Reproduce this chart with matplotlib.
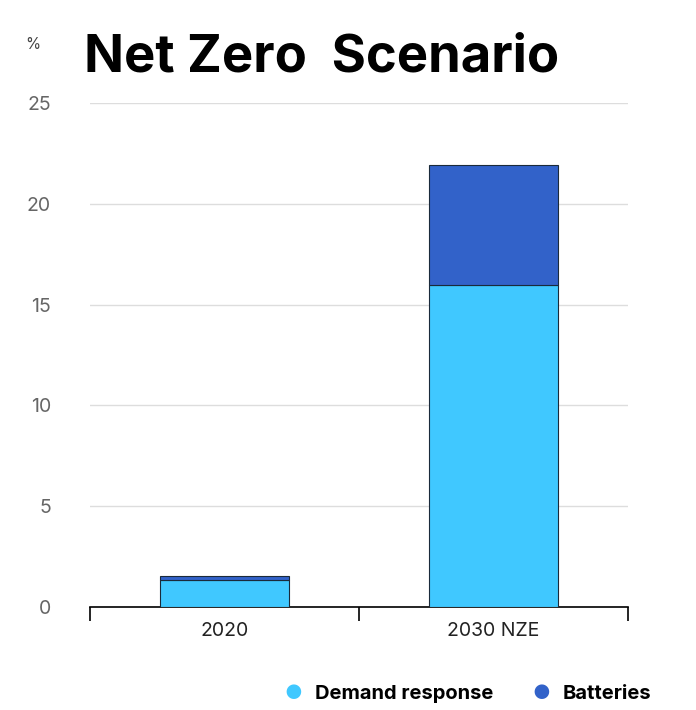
import matplotlib.pyplot as plt

plt.rcParams["font.family"] = ["Inter", "DejaVu Sans"]

categories = ["2020", "2030 NZE"]
demand_response = [1.35, 15.95]
batteries = [0.2, 5.95]

light = "#40C8FF"
dark = "#3262C9"

fig = plt.figure(figsize=(6.96, 7.1), dpi=100)
ax = fig.add_axes([0.129, 0.145, 0.773, 0.71])

x = range(len(categories))
ax.bar(x, demand_response, width=0.48, color=light, edgecolor="#1a2a3a", linewidth=0.8, zorder=3)
ax.bar(x, batteries, width=0.48, bottom=demand_response, color=dark, edgecolor="#1a2a3a", linewidth=0.8, zorder=3)

ax.set_xlim(-0.5, 1.5)
ax.set_ylim(0, 25)
ax.set_yticks([0, 5, 10, 15, 20, 25])
ax.grid(axis="y", color="#dddddd", linewidth=1, zorder=0)
for s in ["top", "right", "left"]:
    ax.spines[s].set_visible(False)
ax.spines["bottom"].set_color("black")
ax.spines["bottom"].set_linewidth(1.2)

ax.set_xticks(x)
ax.set_xticklabels(categories, fontsize=14, color="#222222")
ax.tick_params(axis="x", length=0, pad=11)
ax.set_xticks([-0.5, 0.5, 1.5], minor=True)
ax.tick_params(axis="x", which="minor", length=10, width=1.2, direction="out", color="black")
ax.tick_params(axis="y", length=0, labelsize=14, labelcolor="#666666", pad=28)

fig.text(0.120, 0.918, "Net Zero  Scenario", fontsize=37.8, fontweight="bold", va="center", ha="left")
fig.text(0.036, 0.937, "%", fontsize=11, color="#444444", va="center")

fig.text(0.408, 0.022, "●", fontsize=14, color=light, va="center", ha="left")
fig.text(0.452, 0.022, "Demand response", fontsize=14.5, fontweight="bold", va="center")
fig.text(0.765, 0.022, "●", fontsize=14, color=dark, va="center", ha="left")
fig.text(0.808, 0.022, "Batteries", fontsize=14.5, fontweight="bold", va="center")

fig.savefig("out.png", dpi=100)
